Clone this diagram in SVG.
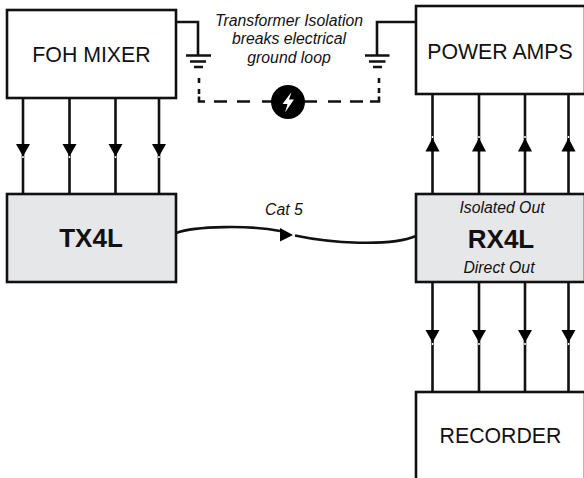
<svg xmlns="http://www.w3.org/2000/svg" width="584" height="478" viewBox="0 0 584 478">
<style>
.box{stroke:#111;stroke-width:2.6;fill:#fff}
.g{fill:#e6e7e8}
.w{stroke:#111;stroke-width:2.6;fill:none}
.ah{fill:#000}
text{font-family:"Liberation Sans",Arial,sans-serif;fill:#111;text-anchor:middle}
.n{font-size:21.300px}
.b{font-size:26px;font-weight:bold}
.i{font-size:15.800px;font-style:italic}
</style>
<defs>
<path id="dn" class="ah" d="M-7 0H7L0 12.500Z"/>
<path id="up" class="ah" d="M-7 13.500H7L0 0Z"/>
</defs>
<g id="connectors">
<path class="w" d="M23 98V194M69.500 98V194M115.500 98V194M159 98V194"/>
<path class="w" d="M432.500 94V194M479 94V194M525 94V194M568.500 94V194"/>
<path class="w" d="M432.500 282V392M479 282V392M525 282V392M568.500 282V392"/>
<g stroke="#fff" stroke-width="1.500"><path d="M23 156v2M69.500 156v2M115.500 156v2M159 156v2M432.500 136v2M479 136v2M525 136v2M568.500 136v2M432.500 343v2M479 343v2M525 343v2M568.500 343v2"/></g>
<use href="#dn" x="23" y="144"/><use href="#dn" x="69.500" y="144"/><use href="#dn" x="115.500" y="144"/><use href="#dn" x="159" y="144"/>
<use href="#up" x="432.500" y="138"/><use href="#up" x="479" y="138"/><use href="#up" x="525" y="138"/><use href="#up" x="568.500" y="138"/>
<use href="#dn" x="432.500" y="330"/><use href="#dn" x="479" y="330"/><use href="#dn" x="525" y="330"/><use href="#dn" x="568.500" y="330"/>
<path class="w" d="M176 233C195 226 250 225 280 231"/>
<path class="w" d="M295 235.500C330 243 390 247 416 236"/>
<path class="ah" d="M280 228L293 235L280 241.500Z"/>
<path class="w" d="M176 22H198V55M186 55.500H211M190 61.500H206M194 67H203"/>
<path class="w" d="M416 22H377V55M365 55.500H389.500M369 61.500H385.500M373 67H382"/>
<path class="w" d="M199 78V83M199 89V94M199 96.500V101.500H205M214 101.500H227M237 101.500H250M262 101.500H272M304 101.500H317M328 101.500H341M350 101.500H363M370 101.500H379V96.500M379 88V93M379 78V83"/>
<circle cx="288" cy="102" r="17" fill="#000"/>
<path fill="#fff" d="M291.500 92L282.500 104H287.500L285 112.500L294 99.500H289Z"/>
</g>
<g id="foh"><rect class="box" x="7" y="10" width="169" height="88"/><text class="n" x="91.500" y="62">FOH MIXER</text></g>
<g id="amps"><rect class="box" x="416" y="6" width="169" height="88"/><text class="n" x="500" y="59">POWER AMPS</text></g>
<g id="tx"><rect class="box g" x="7" y="194" width="169" height="88"/><text class="b" x="91" y="247">TX4L</text></g>
<g id="rx"><rect class="box g" x="416" y="194" width="169" height="88"/><text class="b" x="501" y="248">RX4L</text><text class="i" x="502" y="213">Isolated Out</text><text class="i" x="499" y="273">Direct Out</text></g>
<g id="rec"><rect class="box" x="416" y="392" width="169" height="100"/><text class="n" x="500.500" y="443">RECORDER</text></g>
<g id="labels"><text class="i" x="289" y="26">Transformer Isolation</text><text class="i" x="289" y="44">breaks electrical</text><text class="i" x="289" y="63">ground loop</text><text class="i" x="284" y="215">Cat 5</text></g>
</svg>
